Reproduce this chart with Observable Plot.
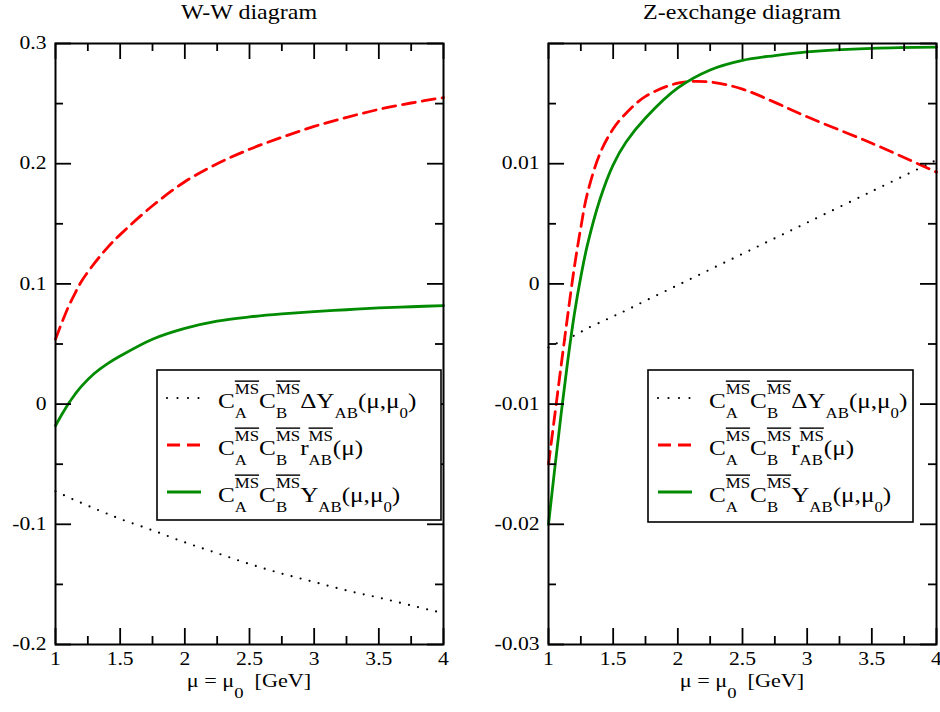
<!DOCTYPE html>
<html><head><meta charset="utf-8">
<script src="https://cdn.jsdelivr.net/npm/d3@7"></script>
<script src="https://cdn.jsdelivr.net/npm/@observablehq/plot@0.6"></script>
<style>
html,body{margin:0;padding:0;background:#fff;}
#wrap{position:relative;width:940px;height:712px;overflow:hidden;background:#fff;}
#wrap svg{position:absolute;top:0;}
</style></head><body><div id="wrap"></div>
<script>
// ---------- data ----------
const wwX      = [1, 1.05, 1.1, 1.15, 1.2, 1.3, 1.4, 1.5, 1.75, 2, 2.25, 2.5, 2.75, 3, 3.25, 3.5, 3.75, 4];
const wwDeltaY = [-0.0725, -0.075, -0.0775, -0.080, -0.0822, -0.0868, -0.0912, -0.0955, -0.105, -0.115, -0.124, -0.133, -0.141, -0.148, -0.155, -0.161, -0.1675, -0.174];
const wwR      = [0.054, 0.068, 0.081, 0.092, 0.102, 0.117, 0.130, 0.141, 0.165, 0.185, 0.200, 0.212, 0.222, 0.231, 0.2385, 0.2452, 0.2505, 0.255];
const wwYv     = [-0.018, -0.0085, 0.0003, 0.0080, 0.0148, 0.0255, 0.0335, 0.040, 0.054, 0.063, 0.069, 0.0725, 0.075, 0.077, 0.0785, 0.080, 0.081, 0.082];

const zX       = [1, 1.05, 1.1, 1.15, 1.2, 1.25, 1.3, 1.4, 1.5, 1.6, 1.75, 2, 2.25, 2.5, 2.75, 3, 3.5, 4];
const zDeltaY  = [-0.0053, -0.0050, -0.0048, -0.0045, -0.0043, -0.0040, -0.0037, -0.0032, -0.0027, -0.0022, -0.0014, -0.0001, 0.0012, 0.0025, 0.0038, 0.0051, 0.0077, 0.0103];
const zR       = [-0.0150, -0.0108, -0.0066, -0.0025, 0.0014, 0.0047, 0.0075, 0.0109, 0.0129, 0.0142, 0.0156, 0.0167, 0.0168, 0.0162, 0.0151, 0.0139, 0.0117, 0.0093];
const zYv      = [-0.0200, -0.0152, -0.0106, -0.0063, -0.0025, 0.0006, 0.0032, 0.0071, 0.0099, 0.0118, 0.0138, 0.0163, 0.0178, 0.0186, 0.0190, 0.0193, 0.0196, 0.0197];

const panelTitles = ["W-W diagram", "Z-exchange diagram"];
const xTicks      = [1, 1.5, 2, 2.5, 3, 3.5, 4];
const xTickLabels = ["1", "1.5", "2", "2.5", "3", "3.5", "4"];
const xMinor      = [1.25, 1.75, 2.25, 2.75, 3.25, 3.75];
const wwYTicks    = [-0.2, -0.1, 0, 0.1, 0.2, 0.3];
const wwYLabels   = ["-0.2", "-0.1", "0", "0.1", "0.2", "0.3"];
const wwYMinor    = [-0.15, -0.05, 0.05, 0.15, 0.25];
const zYTicks     = [-0.03, -0.02, -0.01, 0, 0.01, 0.02];
const zYLabels    = ["-0.03", "-0.02", "-0.01", "0", "0.01", ""];
const zYMinor     = [-0.025, -0.015, -0.005, 0.005, 0.015];

// ---------- styles ----------
const FONT = "Liberation Serif, Times New Roman, serif";
const SX = 1.2; // horizontal stretch of the original's lettering
const styles = {
  deltaY: {stroke: "black", strokeWidth: 2.2, strokeDasharray: "0,9.3", strokeLinecap: "round"},
  r:      {stroke: "#ff0000", strokeWidth: 2.8, strokeDasharray: "13,7"},
  Y:      {stroke: "#008b00", strokeWidth: 2.8}
};
// Liberation Serif advance widths (per 1000 em) for the stacked script pieces
const ADV = {"M":889,"S":556,"A":722,"B":667,"0":500};
const textW = (s, fs) => [...s].reduce((a, ch) => a + (ADV[ch] ?? 500), 0) * fs / 1000;

const W = 470, H = 712, MT = 43, MB = 68;

function makePanel({xs, series, yDomain, yTicks, yLabels, yMinor, ml, mr}) {
  const FW = W - ml - mr, FH = H - MT - MB;
  const rows = [];
  for (const s of series) xs.forEach((x, i) => rows.push({key: s.key, x, y: s.values[i]}));
  const lineMarks = series.map(s => Plot.line(rows.filter(r => r.key === s.key), {
    x: "x", y: "y", curve: "catmull-rom", ...styles[s.key]
  }));
  const tk = {stroke: "black", strokeWidth: 1.8};
  return Plot.plot({
    width: W, height: H,
    marginLeft: ml, marginRight: mr, marginTop: MT, marginBottom: MB,
    style: {fontFamily: FONT, fontSize: "18px", background: "white", color: "black", overflow: "visible"},
    x: {domain: [1, 4]},
    y: {domain: yDomain},
    marks: [
      ...lineMarks,
      // inward major / minor ticks on all four sides
      Plot.tickY(yTicks, {y: d => d, insetRight: FW - 16, ...tk}),
      Plot.tickY(yTicks, {y: d => d, insetLeft: FW - 16, ...tk}),
      Plot.tickY(yMinor, {y: d => d, insetRight: FW - 8, ...tk}),
      Plot.tickY(yMinor, {y: d => d, insetLeft: FW - 8, ...tk}),
      Plot.tickX(xTicks, {x: d => d, insetTop: FH - 16, ...tk}),
      Plot.tickX(xTicks, {x: d => d, insetBottom: FH - 16, ...tk}),
      Plot.tickX(xMinor, {x: d => d, insetTop: FH - 8, ...tk}),
      Plot.tickX(xMinor, {x: d => d, insetBottom: FH - 8, ...tk}),
      Plot.frame({stroke: "black", strokeWidth: 2}),
      Plot.axisY(yTicks, {tickSize: 0, tickPadding: 9, label: null, fontSize: 18,
        tickFormat: d => yLabels[yTicks.indexOf(d)]}),
      Plot.axisX(xTicks, {tickSize: 0, tickPadding: 8, label: null, fontSize: 18,
        tickFormat: d => xTickLabels[xTicks.indexOf(d)]})
    ]
  });
}

// one <text> whose tspans flow naturally; stacked super/subscripts use small dx shifts
function richText(parent, parts, o = {}) {
  const size = o.size ?? 21, supSize = o.supSize ?? 14, subSize = o.subSize ?? 14;
  const rise = o.rise ?? 14, drop = o.drop ?? 9.5;
  const t = parent.append("text").attr("font-family", FONT).attr("font-size", size)
    .attr("fill", "black").attr("text-anchor", o.anchor || "start");
  let level = 0, pendDx = 0;
  const ts = (s, fs, dy, dx) => {
    const e = t.append("tspan").attr("font-size", fs).attr("font-family", FONT).text(s);
    if (dy) e.attr("dy", dy);
    if (dx) e.attr("dx", dx);
    return e;
  };
  for (const p of parts) {
    if (p.t != null) {
      ts(p.t, size, -level, pendDx); level = 0; pendDx = 0;
    } else if (p.sup) {
      const sp = ts(p.sup, supSize, -rise - level, pendDx); level = -rise; pendDx = 0;
      if (p.over) sp.style("text-decoration", "overline");
      const ws = textW(p.sup, supSize);
      if (p.sub) {
        const wb = textW(p.sub, subSize);
        ts(p.sub, subSize, drop - level, -ws); level = drop;
        pendDx = Math.max(0, ws - wb);
      }
    } else if (p.sub) {
      ts(p.sub, subSize, drop - level, pendDx); level = drop; pendDx = 0;
    }
  }
  return t;
}

const wrap = document.getElementById("wrap");

const panels = [
  {left: 0, ml: 55, mr: 27, xs: wwX, yDomain: [-0.2, 0.3], yTicks: wwYTicks, yLabels: wwYLabels, yMinor: wwYMinor,
   series: [{key: "deltaY", values: wwDeltaY}, {key: "r", values: wwR}, {key: "Y", values: wwYv}],
   legend: {x: 157, y: 370, w: 284, h: 150}},
  {left: 470, ml: 78, mr: 4, xs: zX, yDomain: [-0.03, 0.02], yTicks: zYTicks, yLabels: zYLabels, yMinor: zYMinor,
   series: [{key: "deltaY", values: zDeltaY}, {key: "r", values: zR}, {key: "Y", values: zYv}],
   legend: {x: 178, y: 370, w: 265, h: 152}}
];

const CMS = [{t: "C"}, {sup: "MS", over: true, sub: "A"}, {t: "C"}, {sup: "MS", over: true, sub: "B"}];
const legendRows = [
  {key: "deltaY", parts: [...CMS, {t: "\u0394Y"}, {sub: "AB"}, {t: "(\u03bc,\u03bc"}, {sub: "0"}, {t: ")"}]},
  {key: "r",      parts: [...CMS, {t: "r"}, {sup: "MS", over: true, sub: "AB"}, {t: "(\u03bc)"}]},
  {key: "Y",      parts: [...CMS, {t: "Y"}, {sub: "AB"}, {t: "(\u03bc,\u03bc"}, {sub: "0"}, {t: ")"}]}
];

panels.forEach((P, pi) => {
  const svgNode = makePanel(P);
  svgNode.style.left = P.left + "px";
  wrap.appendChild(svgNode);
  // stretch the tick labels horizontally like the original lettering
  svgNode.querySelectorAll("text").forEach(t => {
    const tr = t.getAttribute("transform");
    if (tr) t.setAttribute("transform", tr + ` scale(${SX},1)`);
  });
  const svg = d3.select(svgNode);
  const cx = P.ml + (W - P.ml - P.mr) / 2;

  // title
  svg.append("text").attr("transform", `translate(${cx},19) scale(${SX},1)`)
    .attr("text-anchor", "middle").attr("font-family", FONT).attr("font-size", 20)
    .attr("fill", "black").text(panelTitles[pi]);

  // x-axis label  μ = μ0  [GeV]
  richText(svg, [{t: "\u03bc = \u03bc"}, {sub: "0"}, {t: "\u00a0\u00a0[GeV]"}],
      {size: 18.5, subSize: 15.5, drop: 11, anchor: "middle"})
    .attr("transform", `translate(${cx},687) scale(${SX},1)`);

  // legend
  const L = P.legend;
  svg.append("rect").attr("x", L.x).attr("y", L.y).attr("width", L.w).attr("height", L.h)
    .attr("fill", "white").attr("stroke", "black").attr("stroke-width", 1.6);
  legendRows.forEach((row, ri) => {
    const ly = L.y + 28 + ri * 47;
    const st = styles[row.key];
    svg.append("line").attr("x1", L.x + 10).attr("x2", L.x + 44).attr("y1", ly).attr("y2", ly)
      .attr("stroke", st.stroke).attr("stroke-width", st.strokeWidth)
      .attr("stroke-dasharray", st.strokeDasharray ? (row.key === "deltaY" ? "0,10.5" : st.strokeDasharray) : null)
      .attr("stroke-linecap", st.strokeLinecap || "butt");
    richText(svg, row.parts, {size: 21})
      .attr("transform", `translate(${L.x + 61},${ly + 10}) scale(${SX},1)`);
  });
});
</script></body></html>
